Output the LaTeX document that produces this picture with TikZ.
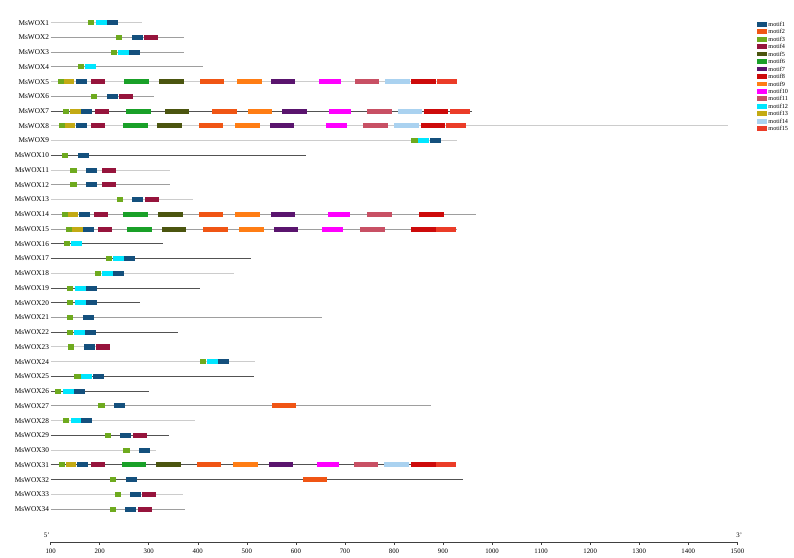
\documentclass[tikz,border=0pt]{standalone}
\usepackage{fontspec}
\setmainfont{Liberation Serif}
\definecolor{mc1}{RGB}{20, 80, 125}
\definecolor{mc2}{RGB}{240, 85, 20}
\definecolor{mc3}{RGB}{110, 170, 30}
\definecolor{mc4}{RGB}{150, 20, 60}
\definecolor{mc5}{RGB}{75, 85, 15}
\definecolor{mc6}{RGB}{25, 160, 40}
\definecolor{mc7}{RGB}{90, 20, 110}
\definecolor{mc8}{RGB}{205, 10, 10}
\definecolor{mc9}{RGB}{255, 125, 20}
\definecolor{mc10}{RGB}{255, 0, 255}
\definecolor{mc11}{RGB}{200, 80, 100}
\definecolor{mc12}{RGB}{0, 230, 255}
\definecolor{mc13}{RGB}{195, 170, 20}
\definecolor{mc14}{RGB}{170, 210, 240}
\definecolor{mc15}{RGB}{235, 60, 40}
\def\motifw{{22,50,13,29,50,50,50,50,50,44,50,22,21,50,41}}

\begin{document}
\begin{tikzpicture}[
  x=0.4905pt, y=-14.74pt,
  gene/.style={font=\fontsize{7.3}{8}\selectfont, inner sep=0pt, anchor=east},
  legtext/.style={font=\fontsize{6.2}{7}\selectfont, inner sep=0pt, anchor=west},
  ticklab/.style={font=\fontsize{6.8}{7}\selectfont, inner sep=0pt},
  lt/.style={draw=black!20, line width=1pt},
  md/.style={draw=black!38, line width=1pt},
  dk/.style={draw=black!68, line width=1pt}
]
  \useasboundingbox (-3.2,-0.54) rectangle (1615.5,37.25);

  % gene names and backbones
  \foreach \r/\len/\shade in {1/286/lt, 2/372/md, 3/372/md, 4/411/md, 5/928/lt,
      6/311/md, 7/959/dk, 8/1481/lt, 9/928/lt, 10/621/dk, 11/343/lt, 12/343/md,
      13/390/lt, 14/967/md, 15/928/md, 16/329/dk, 17/509/dk, 18/474/lt, 19/404/dk,
      20/282/dk, 21/653/md, 22/360/dk, 23/221/lt, 24/517/lt, 25/515/dk, 26/301/dk,
      27/876/md, 28/394/lt, 29/341/dk, 30/315/lt, 31/926/dk, 32/941/dk, 33/370/lt,
      34/374/md}{
    \node[gene] (g\r) at (97,\r) {MsWOX\r};
    \draw[\shade] (100,\r) -- (\len,\r);
  }

  % motifs: row/start/motif
  \foreach \r/\s/\m in {1/176/3, 1/193/12, 1/215/1,
      2/233/3, 2/266/1, 2/290/4,
      3/223/3, 3/237/12, 3/260/1,
      4/156/3, 4/170/12,
      5/115/3, 5/127/13, 5/152/1, 5/182/4, 5/250/6, 5/321/5, 5/404/2, 5/480/9,
      5/549/7, 5/647/10, 5/720/11, 5/782/14, 5/835/8, 5/888/15,
      6/182/3, 6/215/1, 6/239/4,
      7/125/3, 7/140/13, 7/162/1, 7/190/4, 7/254/6, 7/333/5, 7/429/2, 7/502/9,
      7/572/7, 7/668/10, 7/745/11, 7/808/14, 7/861/8, 7/914/15,
      8/117/3, 8/129/13, 8/152/1, 8/182/4, 8/248/6, 8/317/5, 8/402/2, 8/476/9,
      8/547/7, 8/661/10, 8/737/11, 8/800/14, 8/855/8, 8/906/15,
      9/835/3, 9/849/12, 9/873/1,
      10/123/3, 10/156/1,
      11/140/3, 11/172/1, 11/205/4,
      12/140/3, 12/172/1, 12/205/4,
      13/235/3, 13/266/1, 13/292/4,
      14/123/3, 14/135/13, 14/158/1, 14/188/4, 14/248/6, 14/319/5, 14/402/2,
      14/476/9, 14/549/7, 14/666/10, 14/745/11, 14/851/8,
      15/131/3, 15/144/13, 15/166/1, 15/197/4, 15/256/6, 15/327/5, 15/411/2,
      15/484/9, 15/555/7, 15/653/10, 15/731/11, 15/835/8, 15/886/15,
      16/127/3, 16/142/12,
      17/213/3, 17/227/12, 17/250/1,
      18/190/3, 18/205/12, 18/227/1,
      19/133/3, 19/150/12, 19/172/1,
      20/133/3, 20/150/12, 20/172/1,
      21/133/3, 21/166/1,
      22/133/3, 22/148/12, 22/170/1,
      23/135/3, 23/168/1, 23/193/4,
      24/404/3, 24/419/12, 24/441/1,
      25/148/3, 25/162/12, 25/186/1,
      26/109/3, 26/125/12, 26/148/1,
      27/197/3, 27/229/1, 27/551/2,
      28/125/3, 28/142/12, 28/162/1,
      29/211/3, 29/241/1, 29/268/4,
      30/248/3, 30/280/1,
      31/117/3, 31/131/13, 31/154/1, 31/182/4, 31/245/6, 31/315/5, 31/398/2,
      31/472/9, 31/545/7, 31/643/10, 31/718/11, 31/780/14, 31/835/8, 31/886/15,
      32/221/3, 32/254/1, 32/614/2,
      33/231/3, 33/262/1, 33/286/4,
      34/221/3, 34/252/1, 34/278/4}{
    \pgfmathsetmacro\w{\motifw[\m-1]}
    \fill[mc\m] (\s,\r-0.17) rectangle ++(\w,0.34);
  }

  % legend
  \foreach \k in {1,...,15}{
    \pgfmathsetmacro\ly{1.109+0.5054*(\k-1)}
    \fill[mc\k] (1540,\ly-0.16) rectangle ++(20,0.32);
    \node[legtext] (l\k) at (1563,\ly) {motif\k};
  }

  % scale
  \draw[black!75, line width=0.6pt] (100,36.23) -- (1500,36.23);
  \foreach \t in {100,200,...,1500}{
    \draw[black!75, line width=0.5pt] (\t,36.23) -- (\t,36.45);
    \node[ticklab] (t\t) at (\t,36.86) {\t};
  }
  \node[ticklab] (five) at (92,35.76) {5'};
  \node[ticklab] (three) at (1504,35.76) {3'};
\end{tikzpicture}
\end{document}
